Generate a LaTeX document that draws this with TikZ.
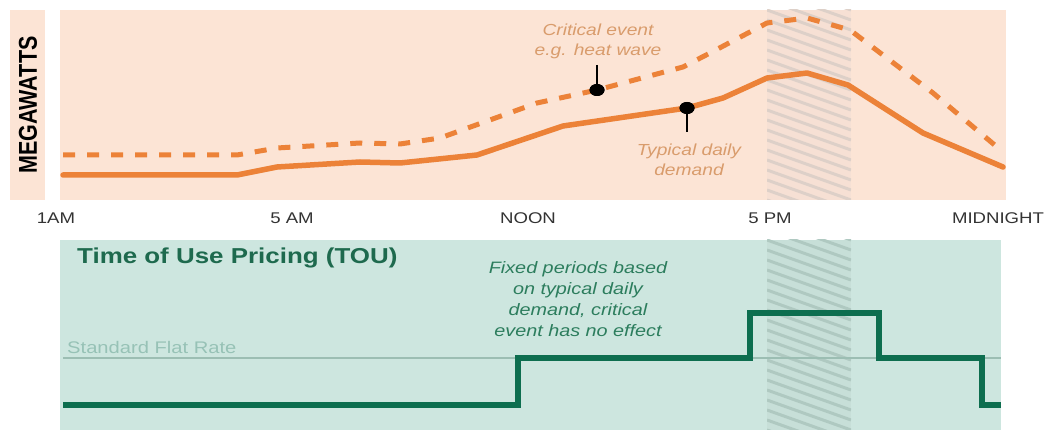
\documentclass[tikz,border=0pt]{standalone}
\usepackage{fontspec}
\setmainfont{Liberation Sans}
\usepackage{graphicx}
\usetikzlibrary{shapes.geometric}
\definecolor{peach}{HTML}{FCE4D5}
\definecolor{peachband}{HTML}{F6E0D4}
\definecolor{peachstripe}{HTML}{DDD0C8}
\definecolor{orangeline}{HTML}{EC8238}
\definecolor{tan}{HTML}{D99C6C}
\definecolor{mint}{HTML}{CDE6DF}
\definecolor{mintband}{HTML}{C7DFD8}
\definecolor{mintstripe}{HTML}{AFC9C1}
\definecolor{stepgreen}{HTML}{0D6E4F}
\definecolor{titlegreen}{HTML}{1E6A4E}
\definecolor{notegreen}{HTML}{2C7D5D}
\definecolor{flatline}{HTML}{9CBEB3}
\definecolor{flattext}{HTML}{97C2B6}
\newcommand{\sx}[1]{\scalebox{1.2}[1]{#1}}
\begin{document}
\begin{tikzpicture}[x=1pt,y=-1pt,
  every node/.style={inner sep=0pt},
  axlabel/.style={font=\fontsize{15.5}{18}\selectfont, text=black!80},
  demand/.style={line width=5.5pt, orangeline, line join=round, line cap=round},
  critical/.style={line width=5pt, orangeline, line join=round, dash pattern=on 12pt off 12pt},
  stem/.style={line width=1.8pt, black},
  dotmark/.style={ellipse, fill=black, minimum width=15pt, minimum height=12pt},
  orangenote/.style={text=tan, font=\fontsize{16}{20}\selectfont\itshape},
  greennote/.style={text=notegreen, font=\fontsize{16.5}{21}\selectfont\itshape},
  touline/.style={line width=6pt, stepgreen, line join=miter},
  hatchA/.style={line width=3pt, peachstripe},
  hatchB/.style={line width=3pt, mintstripe}]
\useasboundingbox (0,0) rectangle (1053,430);
\fill[white] (0,0) rectangle (1053,430);
% panels
\fill[peach] (10,10) rectangle (45,200);
\fill[peach] (60,10) rectangle (1006,200);
\fill[mint] (60,240) rectangle (1001,430);
% hatched band, top
\fill[peachband] (767,10) rectangle (851,200);
\begin{scope}
  \clip (767,10) rectangle (851,200);
  \foreach \k in {-4,...,20} \draw[hatchA] (767,10+\k*10) -- ++(84,30);
\end{scope}
% hatched band, bottom
\fill[mintband] (767,240) rectangle (851,430);
\begin{scope}
  \clip (767,240) rectangle (851,430);
  \foreach \k in {-4,...,20} \draw[hatchB] (767,240+\k*10) -- ++(84,30);
\end{scope}
% y label
\node[rotate=90, font=\fontsize{21.5}{24}\bfseries] (mw) at (28,105) {\scalebox{1}[1.2]{MEGAWATTS}};
% x labels
\node[axlabel] (t1) at (56,218) {\sx{1AM}};
\node[axlabel] (t5) at (292,218) {\sx{5 AM}};
\node[axlabel] (tn) at (528,218) {\sx{NOON}};
\node[axlabel] (tp) at (770,218) {\sx{5 PM}};
\node[axlabel] (tm) at (998,218) {\sx{MIDNIGHT}};
% curves
\draw[critical] (63,155) -- (237,155) -- (277,148) -- (360,143) -- (400,144) -- (440,138) -- (537,103) -- (597,90) -- (683,67) -- (710,53) -- (767,23) -- (807,18) -- (850,30) -- (933,93) -- (997,147);
\draw[demand] (63,175) -- (237,175) -- (277,167) -- (360,162) -- (400,163) -- (477,155) -- (563,126) -- (687,108) -- (723,98) -- (767,78) -- (807,73) -- (848,85) -- (923,133) -- (1003,167);
% markers
\coordinate (cs) at (597,65);
\coordinate (ts) at (687,132);
\node[dotmark] (cd) at (597,90) {};
\node[dotmark] (td) at (687,108) {};
\draw[stem] (cs) -- (cd.center);
\draw[stem] (ts) -- (td.center);
\node[dotmark] at (cd) {};
\node[dotmark] at (td) {};
% notes
\node[orangenote] (crit) at (598,42) {\sx{\begin{tabular}{@{}c@{}}Critical event\\e.g. heat wave\end{tabular}}};
\node[orangenote] (typ) at (689,162) {\sx{\begin{tabular}{@{}c@{}}Typical daily\\demand\end{tabular}}};
% bottom panel
\draw[line width=2pt, flatline] (63,358) -- (1001,358);
\node[anchor=west, text=flattext, font=\fontsize{16.8}{20}\selectfont] (flat) at (67,347) {\sx{Standard Flat Rate}};
\node[anchor=west, text=titlegreen, font=\fontsize{21.6}{26}\selectfont\bfseries] (title) at (77,258) {\sx{Time of Use Pricing (TOU)}};
\node[greennote] (fixed) at (578,301) {\sx{\begin{tabular}{@{}c@{}}Fixed periods based\\on typical daily\\demand, critical\\event has no effect\end{tabular}}};
\draw[touline] (63,405) -- (518,405) -- (518,358) -- (750,358) -- (750,313) -- (879,313) -- (879,358) -- (982,358) -- (982,405) -- (1001,405);
\end{tikzpicture}
\end{document}
